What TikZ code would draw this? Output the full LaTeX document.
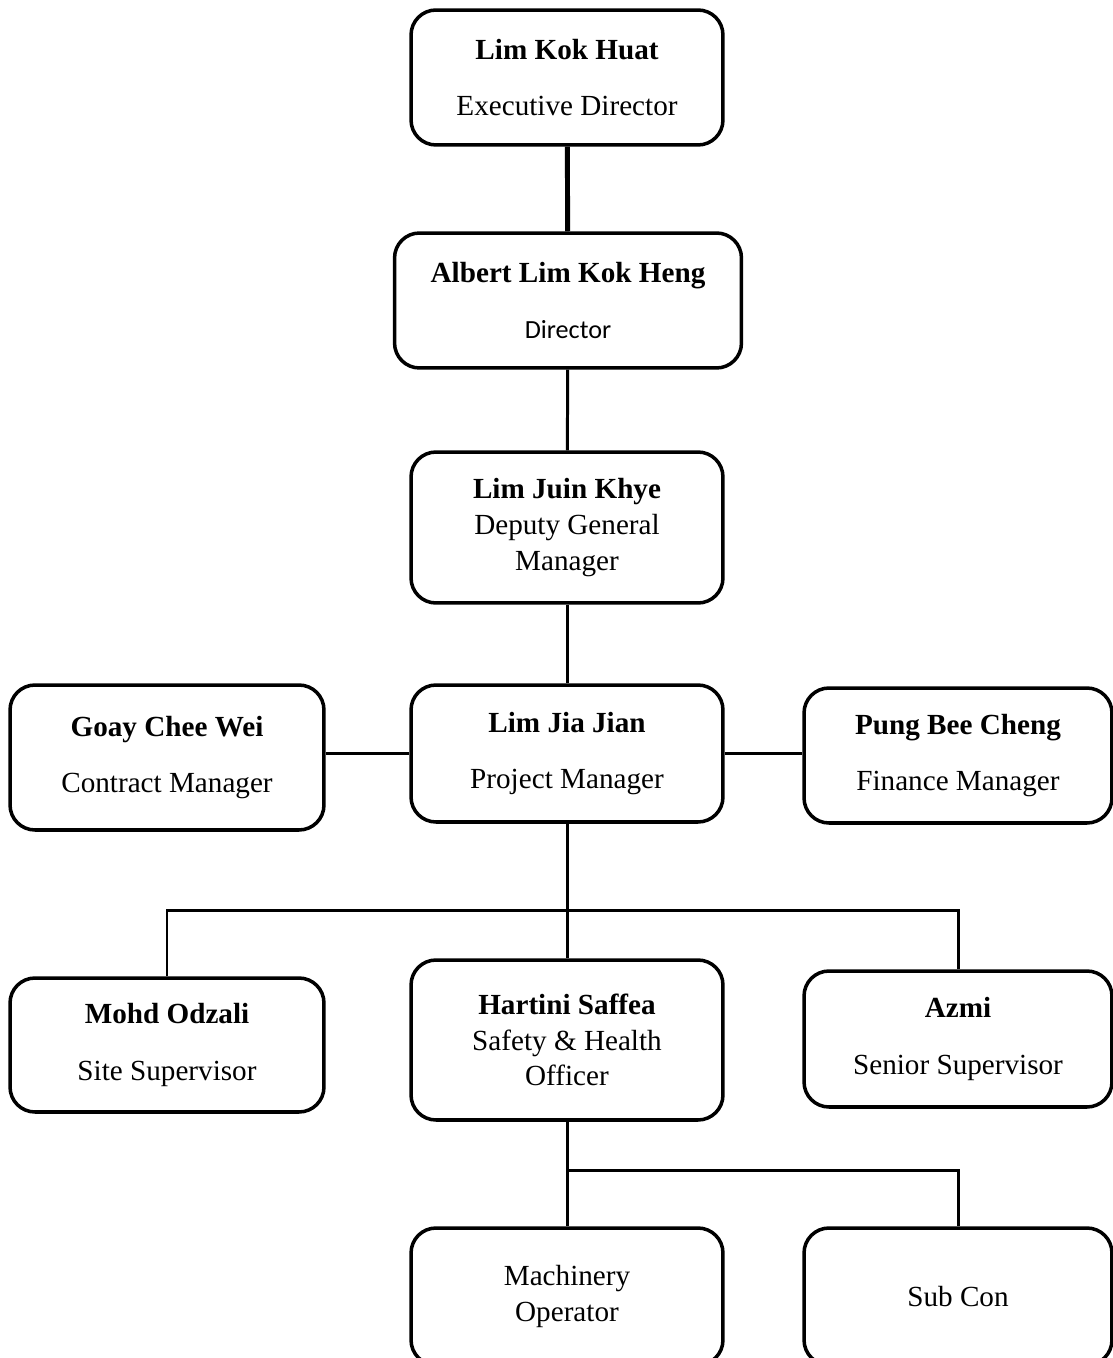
\documentclass[tikz,border=0pt]{standalone}
\usepackage{fontspec}
\setmainfont{Liberation Serif}
\newfontfamily\calibrifont{Carlito}
\usepackage{tikz}
\usetikzlibrary{calc}

\newcommand{\person}[2]{\textbf{#1}\\[0.42cm]#2}

\begin{document}
\begin{tikzpicture}[x=0.02cm,y=-0.02cm,
	box/.style={draw,line width=2pt,rounded corners=0.5cm,align=center,
		minimum width=6.24cm,minimum height=2.7cm,inner sep=0pt,
		font=\fontsize{16.6}{20.4}\selectfont},
	link/.style={line width=1.7pt}]
	\useasboundingbox (0,0) rectangle (1112,1358);

	\node[box] (exec) at (567,77.5) {\person{Lim Kok Huat}{Executive Director}};
	\node[box,minimum width=6.94cm] (dir) at (568,300.5) {\textbf{Albert Lim Kok Heng}\\[0.42cm]{\calibrifont\fontsize{14.9}{18}\selectfont Director}};
	\node[box,minimum height=3.02cm] (dgm) at (567,527.5) {\textbf{Lim Juin Khye}\\Deputy General\\Manager};

	\node[box,minimum width=6.28cm,minimum height=2.9cm] (contract) at (167,757.5) {\person{Goay Chee Wei}{Contract Manager}};
	\node[box,minimum height=2.74cm] (project) at (567,753.5) {\person{Lim Jia Jian}{Project Manager}};
	\node[box,minimum width=6.16cm] (finance) at (958,755.5) {\person{Pung Bee Cheng}{Finance Manager}};

	\node[box,minimum width=6.28cm,minimum height=2.68cm] (site) at (167,1045) {\person{Mohd Odzali}{Site Supervisor}};
	\node[box,minimum height=3.2cm] (safety) at (567,1040) {\textbf{Hartini Saffea}\\Safety \& Health\\Officer};
	\node[box,minimum width=6.16cm,minimum height=2.72cm] (senior) at (958,1039) {\person{Azmi}{Senior Supervisor}};

	\node[box,minimum height=2.74cm] (machinery) at (567,1296.5) {Machinery\\Operator};
	\node[box,minimum width=6.16cm,minimum height=2.74cm] (subcon) at (958,1296.5) {Sub Con};

	\coordinate (bus) at (567,910);
	\coordinate (lowbus) at (567,1170);

	\draw[line width=2.8pt] (exec) -- (dir);
	\draw[link] (dir) -- (dgm);
	\draw[link] (dgm) -- (project);
	\draw[link] (contract.east |- project.west) -- (project.west);
	\draw[link] (project.east) -- (project.east -| finance.west);
	\draw[link] (project) -- (safety);
	\draw[link] (site.north) |- (bus) -| (senior.north);
	\draw[link] (safety) -- (machinery);
	\draw[link] (lowbus) -| (subcon.north);
\end{tikzpicture}
\end{document}
